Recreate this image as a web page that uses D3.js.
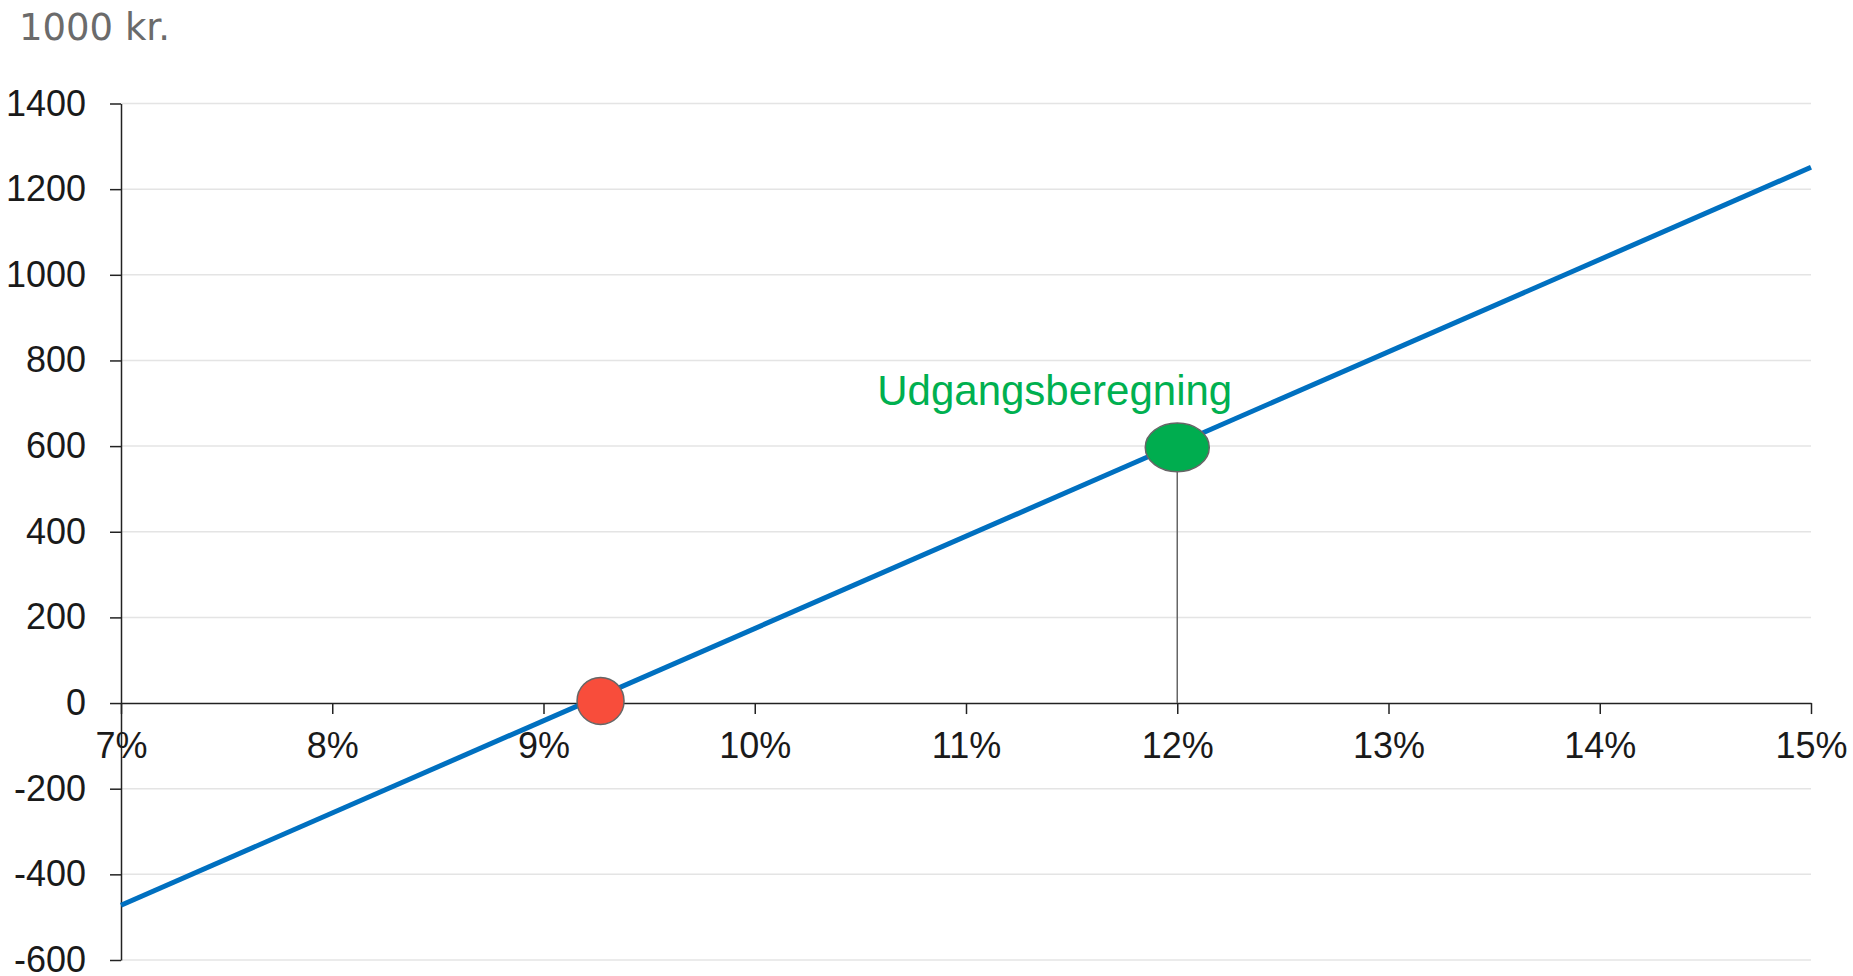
<!DOCTYPE html>
<html>
<head>
<meta charset="utf-8">
<script src="https://cdn.jsdelivr.net/npm/d3@7"></script>
<style>
  html, body { margin: 0; padding: 0; background: #fff; }
  svg { display: block; }
</style>
</head>
<body>
<svg id="chart" width="1853" height="976"></svg>
<script>
// ---- data ----
const xTicks = [7, 8, 9, 10, 11, 12, 13, 14, 15];           // rente i %
const yTicks = [-600, -400, -200, 0, 200, 400, 600, 800, 1000, 1200, 1400];
const lineX = [7, 15];
const lineY = [-472, 1251];
const breakEven = { x: 9.27, y: 5 };
const baseCase = { x: 12, y: 597 };
const baseLabel = { text: "Udgangsberegning", x: 11.42, y: 696 };
const unitTitle = "1000 kr.";

// ---- layout ----
const svg = d3.select("#chart");
const plotLeft = 121, plotRight = 1811, plotTop = 103.5, plotBottom = 960;

const x = d3.scaleLinear().domain([7, 15]).range([plotLeft, plotRight]);
const y = d3.scaleLinear().domain([-600, 1400]).range([plotBottom, plotTop]);

// title
svg.append("text")
  .attr("x", 19).attr("y", 40)
  .attr("font-family", "DejaVu Sans, Verdana, sans-serif")
  .attr("font-size", 37)
  .attr("fill", "#6b6b6b")
  .text(unitTitle);

// gridlines
svg.append("g")
  .selectAll("line")
  .data(yTicks.filter(d => d !== 0))
  .join("line")
  .attr("x1", plotLeft).attr("x2", plotRight)
  .attr("y1", d => y(d)).attr("y2", d => y(d))
  .attr("stroke", "#e4e4e4").attr("stroke-width", 1.5);

// y axis
const yAxis = svg.append("g")
  .attr("transform", `translate(${plotLeft},0)`)
  .call(d3.axisLeft(y).tickValues(yTicks).tickFormat(d => String(d)).tickSizeInner(11).tickSizeOuter(0).tickPadding(24));
yAxis.select(".domain").attr("stroke", "#222").attr("stroke-width", 1.5);
yAxis.selectAll(".tick line").attr("stroke", "#222").attr("stroke-width", 1.5);
yAxis.selectAll("text")
  .attr("font-family", "Liberation Sans, Arial, sans-serif")
  .attr("font-size", 36).attr("fill", "#1a1a1a");

// x axis at y=0
const xAxis = svg.append("g")
  .attr("transform", `translate(0,${y(0)})`)
  .call(d3.axisBottom(x).tickValues(xTicks).tickFormat(d => d + "%").tickSizeInner(11).tickSizeOuter(0).tickPadding(18));
xAxis.select(".domain").attr("stroke", "#222").attr("stroke-width", 1.5);
xAxis.selectAll(".tick line").attr("stroke", "#222").attr("stroke-width", 1.5);
xAxis.selectAll("text")
  .attr("font-family", "Liberation Sans, Arial, sans-serif")
  .attr("font-size", 36).attr("fill", "#1a1a1a");

// drop line from base case
svg.append("line")
  .attr("x1", x(baseCase.x)).attr("x2", x(baseCase.x))
  .attr("y1", y(baseCase.y)).attr("y2", y(0))
  .attr("stroke", "#666").attr("stroke-width", 1.5);

// main line
const pts = lineX.map((d, i) => [d, lineY[i]]);
svg.append("path")
  .datum(pts)
  .attr("d", d3.line().x(d => x(d[0])).y(d => y(d[1])))
  .attr("fill", "none")
  .attr("stroke", "#0070c0")
  .attr("stroke-width", 5);

// break-even marker
svg.append("circle")
  .attr("cx", x(breakEven.x)).attr("cy", y(breakEven.y))
  .attr("r", 23.5)
  .attr("fill", "#f84d3b")
  .attr("stroke", "#666").attr("stroke-width", 1.5);

// base case marker
svg.append("ellipse")
  .attr("cx", x(baseCase.x)).attr("cy", y(baseCase.y))
  .attr("rx", 32).attr("ry", 24.3)
  .attr("fill", "#00ad4f")
  .attr("stroke", "#666").attr("stroke-width", 1.5);

// label
svg.append("text")
  .attr("x", x(baseLabel.x)).attr("y", y(baseLabel.y))
  .attr("text-anchor", "middle")
  .attr("font-family", "Liberation Sans, Arial, sans-serif")
  .attr("font-size", 42)
  .attr("fill", "#00b050")
  .text(baseLabel.text);
</script>
</body>
</html>
